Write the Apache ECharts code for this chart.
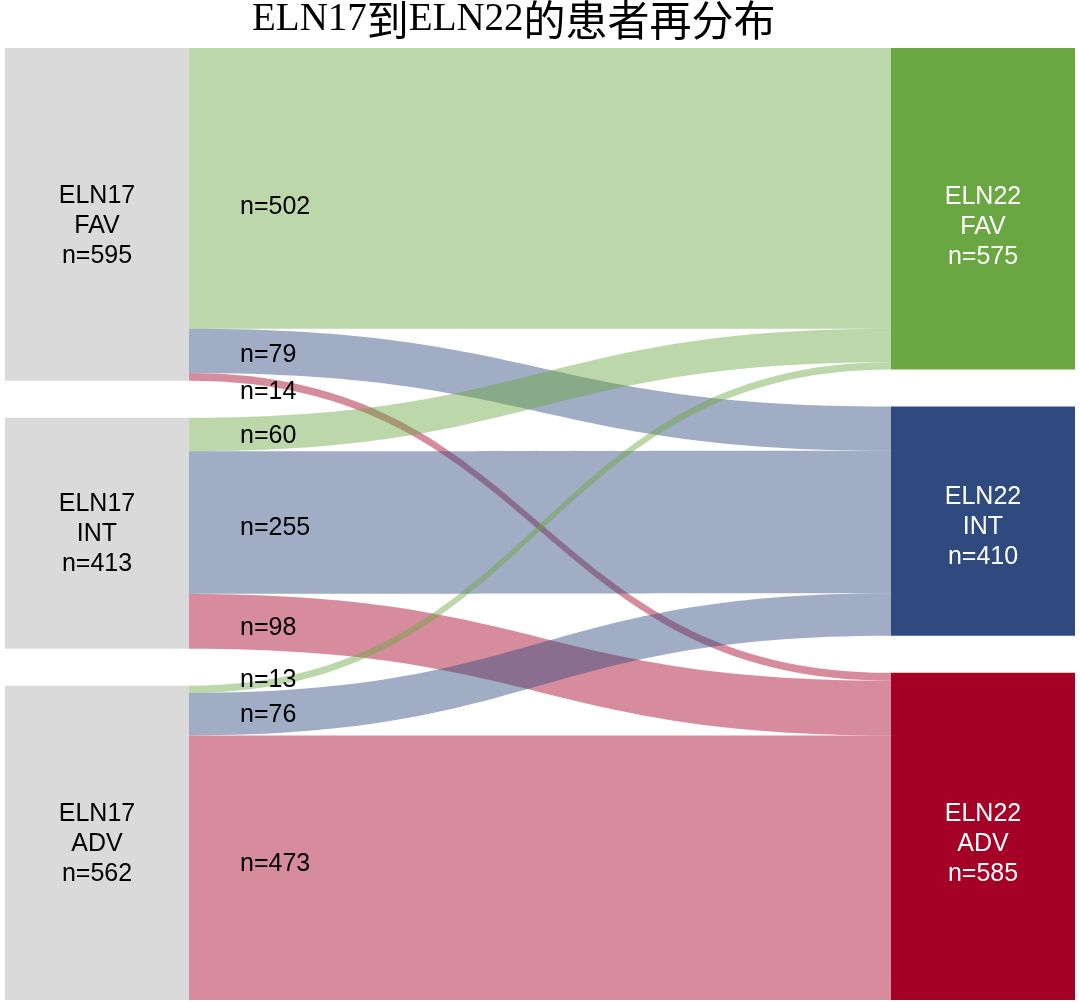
<!DOCTYPE html>
<html>
<head>
<meta charset="utf-8">
<script src="https://cdn.jsdelivr.net/npm/echarts@6/dist/echarts.min.js"></script>
<style>html,body{margin:0;padding:0;background:#fff}#c{width:1080px;height:1002px}</style>
</head>
<body>
<div id="c"></div>
<script>
// ---- data ----
const titleParts = ['ELN17', '到', 'ELN22', '的患者再分布'];
const sourceNodes = ['ELN17 FAV', 'ELN17 INT', 'ELN17 ADV'];
const targetNodes = ['ELN22 FAV', 'ELN22 INT', 'ELN22 ADV'];
// flows from each ELN17 group to ELN22 FAV / INT / ADV
const fromFAV = [502, 79, 14];
const fromINT = [60, 255, 98];
const fromADV = [13, 76, 473];
const flows = [fromFAV, fromINT, fromADV];

// ---- styles ----
const targetColors = ['#6aa641', '#2e4a7e', '#a50026'];
const sourceColor = '#dadada';
const sourceLabelShift = [12, 1, 1];
const targetLabelShift = [18, 6, 8];
// small vertical nudges (px) for the flow labels, keyed by "s-t"
const labelNudge = {'0-0': 19, '0-1': 4, '0-2': 15, '1-0': 2, '1-1': 6, '1-2': 7, '2-0': -9, '2-1': 1, '2-2': -4};

const nodes = [];
sourceNodes.forEach((n, i) => nodes.push({name: n, itemStyle: {color: sourceColor}, label: {color: '#000', offset: [0, sourceLabelShift[i]]}}));
targetNodes.forEach((n, i) => nodes.push({name: n, itemStyle: {color: targetColors[i]}, label: {color: '#fff', offset: [0, targetLabelShift[i]]}}));
const links = [];
flows.forEach((row, s) => row.forEach((v, t) => links.push({
  source: sourceNodes[s], target: targetNodes[t], value: v, key: s + '-' + t,
  lineStyle: {color: targetColors[t], opacity: 0.45}
})));

const latinStyle = {fontFamily: '"Liberation Serif","DejaVu Serif",serif', fontWeight: 'normal', fontSize: 39, color: '#000'};
const cjkStyle = {fontFamily: '"Noto Sans CJK SC",sans-serif', fontWeight: 'normal', fontSize: 42, color: '#000'};
const titleText = titleParts.map((p, i) => (i % 2 === 0 ? '{a|' : '{c|') + p + '}').join('');

const chart = echarts.init(document.getElementById('c'), null, {renderer: 'canvas'});
const seriesBox = {left: 5, right: 5, top: 48, bottom: 2};
const labelFont = '"Liberation Sans",Arial,sans-serif';
chart.setOption({
  animation: false,
  title: {text: titleText, left: 247, top: -6, textStyle: {fontSize: 42, rich: {a: latinStyle, c: cjkStyle}}},
  series: [{
    type: 'sankey',
    left: seriesBox.left, right: seriesBox.right, top: seriesBox.top, bottom: seriesBox.bottom,
    nodeWidth: 184,
    nodeGap: 37,
    layoutIterations: 0,
    nodeAlign: 'justify',
    draggable: false,
    emphasis: {disabled: true},
    itemStyle: {borderWidth: 0},
    label: {
      position: 'inside', fontFamily: labelFont, fontSize: 25, lineHeight: 30, align: 'center',
      formatter: p => p.name.replace(' ', '\n') + '\nn=' + p.value
    },
    lineStyle: {curveness: 0.5},
    data: nodes,
    links: links
  }]
});

// flow labels placed at the left end of each flow, from the sankey's own layout
const graph = chart.getModel().getSeriesByIndex(0).getGraph();
const g = [];
graph.eachEdge(edge => {
  const n1 = edge.node1.getLayout();
  const el = edge.getLayout();
  const key = links[edge.dataIndex].key;
  const x = seriesBox.left + n1.x + n1.dx + 51;
  const y = seriesBox.top + n1.y + el.sy + el.dy / 2 + (labelNudge[key] || 0);
  g.push({type: 'text', x: x, y: y, z: 100, style: {text: 'n=' + edge.getValue(), fill: '#000', font: '25px "Liberation Sans", Arial, sans-serif', verticalAlign: 'middle'}});
});
chart.setOption({graphic: g});
</script>
</body>
</html>
